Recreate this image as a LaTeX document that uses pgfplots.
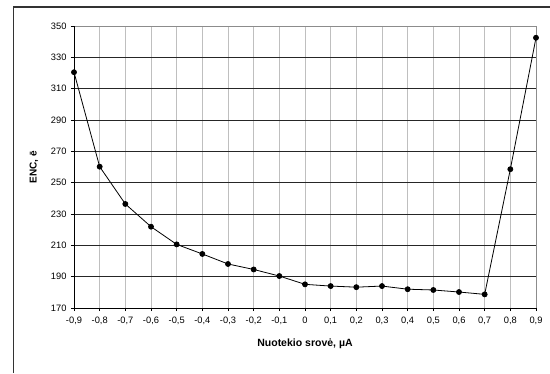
\documentclass[border=0pt]{standalone}
\usepackage{pgfplots}
\pgfplotsset{compat=1.18}
\usepackage{fontspec}
\setmainfont{Liberation Sans}
\begin{document}
\begin{tikzpicture}[x=1pt,y=1pt]
\useasboundingbox (0,0) rectangle (550,373);
\draw[line width=1.6pt, black!80] (13.5,0) -- (13.5,365.7) -- (550,365.7);
\begin{axis}[
  at={(74pt,65pt)}, anchor=south west,
  scale only axis, width=462pt, height=282pt,
  xmin=-0.9, xmax=0.9, ymin=170, ymax=350,
  xtick={-0.9,-0.8,...,0.91}, ytick={170,190,...,350},
  axis line style={draw=none},
  xmajorgrids, ymajorgrids,
  x grid style={color=black!25, line width=0.8pt},
  y grid style={color=black!85, line width=0.8pt},
  tick style={black, line width=0.8pt},
  tick align=outside, major tick length=3pt,
  xtick pos=bottom, ytick pos=left,
  font=\fontsize{9.3}{11}\selectfont,
  /pgf/number format/assume math mode=true,
  /pgf/number format/use comma,
  /pgf/number format/fixed, /pgf/number format/precision=1,
  xticklabel style={yshift=-2pt},
  yticklabel style={xshift=-1pt},
  clip=false,
]
\draw[black!45, line width=0.8pt] (axis cs:-0.9,350) -- (axis cs:0.9,350) -- (axis cs:0.9,170);
\draw[black, line width=0.9pt] (axis cs:-0.9,350) -- (axis cs:-0.9,170) -- (axis cs:0.9,170);
\addplot[black, line width=0.8pt, mark=*, mark size=2.5pt] coordinates {
(-0.9,320.5) (-0.8,260.2) (-0.7,236.4) (-0.6,221.9) (-0.5,210.6) (-0.4,204.5)
(-0.3,198.1) (-0.2,194.6) (-0.1,190.4) (0,185.1) (0.1,184.0) (0.2,183.3)
(0.3,184.0) (0.4,182.0) (0.5,181.5) (0.6,180.2) (0.7,178.7) (0.8,258.6) (0.9,342.5)
};
\end{axis}
\node[rotate=90, font=\bfseries\fontsize{10}{12}\selectfont] at (34,206) {ENC, ē};
\node[font=\bfseries\fontsize{10.5}{12}\selectfont] at (305,29) {Nuotekio srovė, µA};
\end{tikzpicture}
\end{document}
